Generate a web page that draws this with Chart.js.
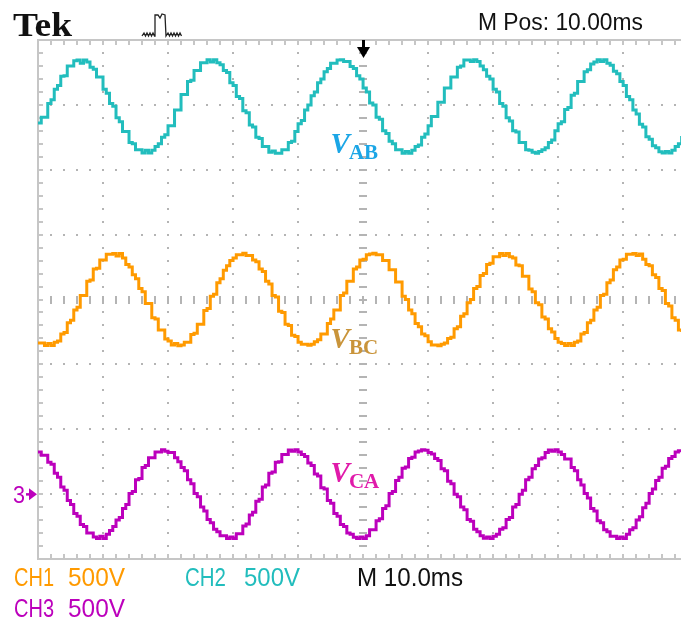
<!DOCTYPE html>
<html>
<head>
<meta charset="utf-8">
<script src="https://cdn.jsdelivr.net/npm/chart.js@4/dist/chart.umd.min.js"></script>
<style>
  html, body { margin: 0; padding: 0; background: #ffffff; }
  #wrap { width: 681px; height: 628px; }
</style>
</head>
<body>
<div id="wrap"><canvas id="scope" width="681" height="628"></canvas></div>
<script>
// Acquisition settings
const SAMPLE_MS = 0.5;          // one stored sample every 0.5 ms
const TIME_PER_DIV_MS = 10;     // M 10.0ms
const VOLTS_PER_DIV = 500;      // CH1/CH2/CH3 500V
const VISIBLE_MS = 98.9;        // right edge of the visible record
const CH_POSITION_DIV = { CH1: 0, CH2: 3, CH3: -3 };  // ground marker positions

// Line voltages (V), one value per sample
const VAB = [
  -140,-95,-95,10,40,120,150,220,225,300,300,340,345,320,345,330,290,275,215,215,
  120,90,10,-10,-100,-130,-205,-205,-290,-300,-345,-345,-370,-350,-370,-350,-320,-300,-250,-230,
  -160,-160,-40,-40,80,80,180,190,265,265,325,325,348,330,348,325,310,265,250,170,
  150,65,50,-45,-60,-155,-170,-250,-260,-320,-320,-365,-355,-372,-372,-345,-345,-290,-280,-205,
  -145,-120,-40,0,70,100,170,200,255,280,320,320,345,348,335,335,295,280,225,200,
  130,100,15,0,-95,-110,-200,-220,-280,-300,-345,-345,-372,-360,-372,-350,-320,-310,-250,-225,
  -160,-90,-90,20,20,130,130,215,215,290,300,345,345,335,348,335,300,270,220,200,
  120,100,10,-10,-100,-125,-200,-210,-290,-290,-345,-350,-365,-372,-360,-345,-330,-290,-270,-200,
  -145,-130,-35,-20,75,90,180,180,255,270,315,330,348,335,348,320,305,260,240,180,
  150,65,40,-40,-70,-150,-170,-245,-265,-315,-330,-362,-370,-360,-370,-350,-320,-300,-240
];
const VBC = [
  -335,-335,-355,-340,-355,-330,-320,-265,-255,-180,-160,-80,-60,30,30,140,150,235,240,305,
  305,348,348,355,335,355,320,270,250,190,160,85,60,-30,-30,-140,-150,-235,-235,-305,
  -320,-350,-340,-356,-350,-330,-330,-270,-260,-190,-190,-85,-70,25,40,130,160,225,260,300,
  320,345,345,356,340,340,305,290,235,215,140,120,30,20,-90,-100,-190,-200,-275,-285,
  -330,-345,-345,-352,-345,-325,-310,-265,-265,-185,-150,-80,-80,30,50,140,140,235,250,305,
  310,345,350,356,345,345,300,300,230,230,135,135,25,0,-80,-110,-185,-210,-265,-280,
  -325,-350,-350,-356,-345,-335,-300,-290,-225,-210,-130,-110,-25,0,85,100,185,200,270,280,
  330,330,355,340,355,330,320,265,260,180,180,80,60,-25,-40,-135,-150,-225,-250,-300,
  -330,-340,-355,-340,-355,-330,-320,-265,-255,-180,-160,-80,-60,30,40,130,150,230,250,305,
  310,348,348,355,340,350,310,270,260,190,170,85,70,-30,-50,-140,-160,-235,-250
];
const VCA = [
  325,300,300,245,230,160,130,55,30,-50,-80,-150,-170,-235,-250,-300,-300,-330,-342,-325,
  -342,-310,-280,-250,-200,-180,-110,-80,5,20,110,120,205,220,280,280,325,325,342,330,
  320,320,280,250,205,180,110,80,5,-20,-100,-130,-195,-220,-270,-290,-320,-320,-342,-330,
  -342,-305,-305,-245,-230,-160,-140,-55,-40,55,70,160,170,245,250,305,305,340,330,342,
  325,305,290,240,220,155,140,50,40,-50,-70,-150,-170,-235,-250,-300,-310,-332,-342,-330,
  -342,-320,-275,-275,-205,-190,-110,-90,5,20,105,130,200,210,275,285,325,332,342,338,
  320,310,275,260,195,180,100,80,0,-20,-100,-120,-195,-210,-270,-290,-320,-340,-330,-342,
  -325,-310,-270,-260,-195,-180,-100,-80,0,30,110,130,195,220,270,280,320,340,330,342,
  325,305,270,270,205,180,110,70,5,-30,-110,-130,-205,-220,-275,-290,-325,-325,-342,-330,
  -342,-310,-275,-260,-200,-175,-105,-70,5,40,105,130,200,215,275,290,325,335,342
];

const CH1_COLOR = '#ff9a00';
const CH2_COLOR = '#22bdbd';
const CH3_COLOR = '#bc00bc';
const GRID_COLOR = '#b4b4b4';
const FRAME_COLOR = '#c6c6c6';

const toPoints = arr => arr.map((v, i) => ({ x: i * SAMPLE_MS, y: v }));

// each channel gets its own vertical axis, 8 divisions tall, offset by its position
function channelAxis(posDiv) {
  return {
    type: 'linear',
    display: false,
    min: (-4 - posDiv) * VOLTS_PER_DIV,
    max: (4 - posDiv) * VOLTS_PER_DIV
  };
}

// draw text squeezed/stretched to a given width (scope readout font is narrow)
function fitText(ctx, text, x, y, font, color, width) {
  ctx.save();
  ctx.font = font;
  ctx.fillStyle = color;
  ctx.textBaseline = 'alphabetic';
  ctx.textAlign = 'left';
  const w = ctx.measureText(text).width;
  ctx.translate(x, y);
  ctx.scale(width / w, 1);
  ctx.fillText(text, 0, 0);
  ctx.restore();
}

const graticule = {
  id: 'graticule',
  beforeDatasetsDraw(chart) {
    const { ctx, chartArea: a, scales } = chart;
    const xs = scales.x, ys = scales.yCH1;
    const minorT = TIME_PER_DIV_MS / 5, minorV = VOLTS_PER_DIV / 5;
    const centerT = TIME_PER_DIV_MS * 5;
    ctx.save();
    ctx.fillStyle = GRID_COLOR;
    // dotted horizontal division lines
    for (let v = -3 * VOLTS_PER_DIV; v <= 3 * VOLTS_PER_DIV; v += VOLTS_PER_DIV) {
      if (v === 0) continue;
      const py = Math.round(ys.getPixelForValue(v));
      for (let t = minorT; t <= VISIBLE_MS; t += minorT) {
        const px = Math.round(xs.getPixelForValue(t));
        ctx.fillRect(px - 1, py - 1, 2, 2);
      }
    }
    // dotted vertical division lines
    for (let t = TIME_PER_DIV_MS; t <= VISIBLE_MS; t += TIME_PER_DIV_MS) {
      if (t === centerT) continue;
      const px = Math.round(xs.getPixelForValue(t));
      for (let v = -4 * VOLTS_PER_DIV + minorV; v < 4 * VOLTS_PER_DIV; v += minorV) {
        const py = Math.round(ys.getPixelForValue(v));
        ctx.fillRect(px - 1, py - 1, 2, 2);
      }
    }
    // centre cross with minor ticks
    const cy = Math.round(ys.getPixelForValue(0));
    const cx = Math.round(xs.getPixelForValue(centerT));
    for (let t = minorT; t <= VISIBLE_MS; t += minorT) {
      const px = Math.round(xs.getPixelForValue(t));
      ctx.fillRect(px - 1, cy - 4, 2, 8);
    }
    for (let v = -4 * VOLTS_PER_DIV + minorV; v < 4 * VOLTS_PER_DIV; v += minorV) {
      const py = Math.round(ys.getPixelForValue(v));
      ctx.fillRect(cx - 4, py - 1, 8, 2);
    }
    // frame
    ctx.fillStyle = FRAME_COLOR;
    ctx.fillRect(a.left - 1, a.top - 1, 2, a.bottom - a.top + 2);
    ctx.fillRect(a.left - 1, a.top - 1, a.right - a.left + 2, 2);
    ctx.fillRect(a.left - 1, a.bottom - 1, a.right - a.left + 2, 2);
    // frame ticks
    for (let t = minorT; t <= VISIBLE_MS; t += minorT) {
      const px = Math.round(xs.getPixelForValue(t));
      ctx.fillRect(px - 1, a.top, 2, 5);
      ctx.fillRect(px - 1, a.bottom - 5, 2, 5);
    }
    for (let v = -4 * VOLTS_PER_DIV + minorV; v < 4 * VOLTS_PER_DIV; v += minorV) {
      const py = Math.round(ys.getPixelForValue(v));
      ctx.fillRect(a.left, py - 1, 5, 2);
    }
    ctx.restore();
  }
};

const annotations = {
  id: 'annotations',
  afterDraw(chart) {
    const { ctx, scales } = chart;
    const xs = scales.x;
    ctx.save();

    // header
    fitText(ctx, 'Tek', 13, 36, 'bold 33px "Liberation Serif"', '#111111', 59);
    fitText(ctx, 'M Pos: 10.00ms', 478, 30, '24px "Liberation Sans"', '#111111', 165);

    // trigger type symbol
    ctx.strokeStyle = '#222222';
    ctx.lineWidth = 1.3;
    ctx.beginPath();
    ctx.moveTo(142, 36);
    for (let i = 0; i < 4; i++) { ctx.lineTo(144 + i * 3, 33); ctx.lineTo(145.5 + i * 3, 36); }
    ctx.lineTo(155, 36); ctx.lineTo(155, 15); ctx.lineTo(158, 15); ctx.lineTo(160, 18);
    ctx.lineTo(162, 14); ctx.lineTo(165, 15); ctx.lineTo(166, 36);
    for (let i = 0; i < 5; i++) { ctx.lineTo(168 + i * 3, 33); ctx.lineTo(169.5 + i * 3, 36); }
    ctx.stroke();

    // trigger position arrow
    const tx = Math.round(xs.getPixelForValue(TIME_PER_DIV_MS * 5));
    ctx.fillStyle = '#000000';
    ctx.fillRect(tx - 1, 40, 3, 9);
    ctx.beginPath();
    ctx.moveTo(tx - 6, 47); ctx.lineTo(tx + 7, 47); ctx.lineTo(tx + 0.5, 58); ctx.closePath();
    ctx.fill();

    // CH3 ground marker
    const g3 = scales.yCH3.getPixelForValue(0);
    fitText(ctx, '3', 13, g3 + 9, '23px "Liberation Sans"', CH3_COLOR, 12);
    ctx.fillStyle = CH3_COLOR;
    ctx.fillRect(26, g3 - 1, 5, 2.5);
    ctx.beginPath();
    ctx.moveTo(29, g3 - 6); ctx.lineTo(37, g3); ctx.lineTo(29, g3 + 6); ctx.closePath();
    ctx.fill();

    // waveform labels
    const labelX = xs.getPixelForValue(45);
    const labels = [
      { sub: 'AB', color: '#1ba6e6', axis: 'yCH2', v: -370 },
      { sub: 'BC', color: '#c9943a', axis: 'yCH1', v: -375 },
      { sub: 'CA', color: '#e01aaa', axis: 'yCH3', v: 95 }
    ];
    labels.forEach(l => {
      const by = scales[l.axis].getPixelForValue(l.v);
      ctx.font = 'bold italic 29px "Liberation Serif"';
      ctx.fillStyle = l.color;
      ctx.fillText('V', labelX, by);
      const vw = ctx.measureText('V').width;
      ctx.font = 'bold 21px "Liberation Serif"';
      ctx.fillText(l.sub, labelX + vw - 1, by + 6);
    });

    // readouts
    fitText(ctx, 'CH1', 14, 586, '25px "Liberation Sans"', CH1_COLOR, 40);
    fitText(ctx, '500V', 68, 586, '25px "Liberation Sans"', CH1_COLOR, 57);
    fitText(ctx, 'CH2', 185, 586, '25px "Liberation Sans"', CH2_COLOR, 41);
    fitText(ctx, '500V', 244, 586, '25px "Liberation Sans"', CH2_COLOR, 56);
    fitText(ctx, 'M 10.0ms', 357, 586, '25px "Liberation Sans"', '#111111', 106);
    fitText(ctx, 'CH3', 14, 617, '25px "Liberation Sans"', CH3_COLOR, 40);
    fitText(ctx, '500V', 68, 617, '25px "Liberation Sans"', CH3_COLOR, 57);

    ctx.restore();
  }
};

const trace = (label, data, color, axis) => ({
  label,
  data: toPoints(data),
  yAxisID: axis,
  borderColor: color,
  backgroundColor: color,
  borderWidth: 3,
  pointRadius: 0,
  stepped: true,
  fill: false
});

new Chart(document.getElementById('scope'), {
  type: 'line',
  data: {
    datasets: [
      trace('VAB', VAB, CH2_COLOR, 'yCH2'),
      trace('VBC', VBC, CH1_COLOR, 'yCH1'),
      trace('VCA', VCA, CH3_COLOR, 'yCH3')
    ]
  },
  options: {
    responsive: false,
    animation: false,
    events: [],
    layout: { padding: { left: 38, top: 40, right: 0, bottom: 69 } },
    plugins: { legend: { display: false }, tooltip: { enabled: false } },
    scales: {
      x: { type: 'linear', display: false, min: 0, max: VISIBLE_MS },
      yCH1: channelAxis(CH_POSITION_DIV.CH1),
      yCH2: channelAxis(CH_POSITION_DIV.CH2),
      yCH3: channelAxis(CH_POSITION_DIV.CH3)
    }
  },
  plugins: [graticule, annotations]
});
</script>
</body>
</html>
